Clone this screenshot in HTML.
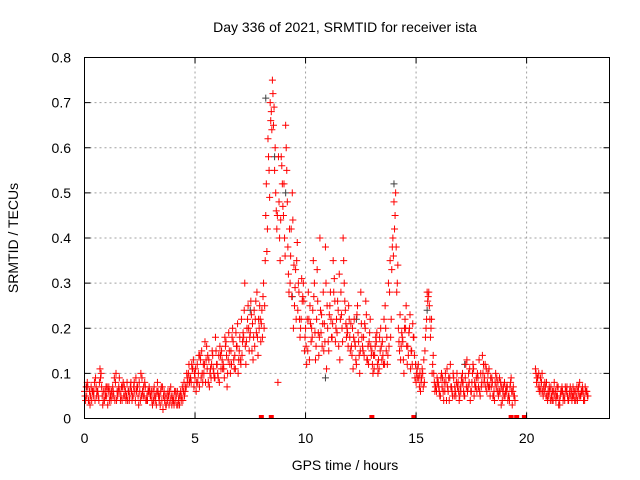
<!DOCTYPE html>
<html><head><meta charset="utf-8"><style>
body{margin:0;background:#fff}
svg{display:block;font-family:"Liberation Sans",sans-serif}
</style></head><body>
<svg id="chart" width="640" height="480" viewBox="0 0 640 480">
<text x="345" y="32" font-size="14" text-anchor="middle">Day 336 of 2021, SRMTID for receiver ista</text>
<text x="345" y="470" font-size="14" text-anchor="middle">GPS time / hours</text>
<text x="18" y="238" font-size="14" text-anchor="middle" transform="rotate(-90 18 238)">SRMTID / TECUs</text>
<g id="grid"></g>
<g id="marks"></g>
<rect x="84.5" y="57.5" width="525" height="361" fill="none" stroke="#000" stroke-width="1"/>
<g id="axes"></g>
</svg>
<script>
const xTicks=[0,5,10,15,20];
const yTicks=[0,0.1,0.2,0.3,0.4,0.5,0.6,0.7,0.8];
const yTickLabels=["0","0.1","0.2","0.3","0.4","0.5","0.6","0.7","0.8"];
const seriesA=[
.06,.05,.04,.07,.05,.09,.06,.11,.05,.04,
.05,.07,.04,.06,.08,.05,.06,.04,.07,.05,
.06,.08,.05,.04,.07,.06,.09,.05,.04,.06,
.05,.06,.04,.08,.05,.04,.06,.03,.05,.07,
.05,.04,.06,.03,.05,.08,.07,.10,.09,.11,
.09,.12,.07,.15,.10,.13,.08,.11,.14,.09,
.12,.08,.15,.11,.17,.13,.10,.20,.14,.16,
.15,.22,.18,.12,.25,.19,.21,.16,.28,.20,
.21,.30,.45,.62,.70,.75,.55,.42,.48,.58,
.45,.65,.38,.30,.50,.25,.35,.28,.22,.30,
.20,.15,.25,.18,.30,.22,.14,.19,.28,.38,
.20,.25,.18,.31,.22,.16,.28,.40,.24,.19,
.18,.14,.22,.12,.17,.28,.15,.20,.13,.19,
.15,.11,.17,.13,.20,.14,.25,.12,.28,.33,
.48,.38,.20,.13,.17,.22,.12,.20,.15,.18,
.08,.12,.06,.10,.15,.28,.25,.22,.10,.07,
.08,.05,.09,.06,.11,.04,.07,.09,.05,.08,
.07,.10,.05,.13,.08,.06,.11,.07,.09,.05,
.14,.09,.06,.11,.07,.05,.10,.08,.06,.04,
.08,.06,.05,.09,.07,null,null,null,null,null,
null,null,null,null,.11,.09,.07,.10,.06,.08,
.05,.07,.04,.06,.05,.03,.07,.05,.06,.04,
.05,.07,.06,.04,.08,.06,.05,.06,null,null];
const seriesB=[
.04,.07,.03,.06,.08,.05,.04,.10,.06,.05,
.03,.06,.05,.09,.04,.07,.05,.08,.06,.04,
.05,.04,.08,.06,.03,.10,.05,.07,.04,.06,
.04,.07,.03,.05,.06,.02,.05,.04,.06,.03,
.03,.05,.04,.06,.04,.06,.09,.08,.12,.07,
.06,.10,.13,.08,.17,.11,.07,.12,.10,.15,
.09,.14,.11,.18,.07,.15,.12,.13,.19,.10,
.13,.17,.30,.20,.15,.23,.18,.26,.14,.22,
.18,.25,.37,.55,.68,.65,.50,.08,.35,.52,
.40,.55,.28,.42,.20,.33,.24,.18,.26,.15,
.12,.22,.17,.35,.13,.26,.40,.16,.21,.11,
.15,.22,.35,.17,.26,.13,.20,.30,.18,.25,
.21,.11,.16,.25,.10,.18,.14,.23,.12,.16,
.10,.16,.12,.18,.13,.22,.15,.30,.18,.40,
.45,.30,.15,.19,.10,.25,.14,.11,.21,.09,
.11,.07,.09,.13,.20,.27,.18,.12,.06,.09,
.06,.10,.04,.08,.06,.12,.05,.07,.10,.04,
.09,.06,.12,.07,.04,.10,.08,.06,.13,.07,
.12,.07,.10,.05,.08,.04,.09,.06,.03,.07,
.06,.04,.07,.03,.05,null,null,null,null,null,
null,null,null,null,.08,.10,.06,.05,.07,.04,
.06,.04,.08,.05,.03,.06,.04,.07,.05,.06,
.04,.06,.05,.07,.05,.06,.07,.05,null,null];
const seriesC=[
.05,.08,.06,.04,.06,.07,.05,.09,.03,.06,
.07,.04,.06,.05,.10,.06,.04,.07,.05,.08,
.04,.06,.07,.09,.05,.04,.06,.08,.05,.07,
.06,.04,.05,.06,.03,.07,.04,.05,.03,.05,
.04,.06,.03,.05,.07,.05,.10,.12,.08,.13,
.11,.08,.14,.10,.12,.16,.13,.09,.11,.18,
.10,.16,.13,.09,.14,.19,.15,.17,.11,.21,
.18,.14,.24,.17,.20,.26,.13,.22,.18,.25,
.24,.20,.52,.58,.66,.72,.60,.45,.40,.56,
.52,.60,.32,.36,.44,.29,.39,.22,.31,.26,
.16,.28,.21,.24,.19,.33,.18,.23,.15,.30,
.17,.28,.21,.26,.19,.32,.23,.35,.21,.16,
.15,.20,.17,.23,.14,.21,.18,.26,.16,.22,
.12,.14,.19,.11,.16,.12,.20,.14,.35,.38,
.42,.28,.17,.16,.13,.20,.16,.23,.12,.14,
.10,.09,.08,.07,.18,.26,.22,.10,.08,.06,
.07,.09,.06,.10,.07,.09,.06,.05,.08,.06,
.06,.08,.09,.06,.11,.08,.05,.09,.07,.10,
.10,.12,.08,.07,.09,.06,.07,.05,.08,.06,
.05,.07,.04,.06,.05,null,null,null,null,null,
null,null,null,null,.10,.07,.09,.06,.08,.05,
.07,.05,.06,.04,.07,.05,.06,.04,.07,.05,
.06,.05,.04,.06,.05,.07,.04,.06,null,null];
const seriesD=[
.07,.04,.05,.06,.04,.06,.08,.07,.04,.07,
.06,.05,.07,.04,.06,.09,.07,.05,.04,.06,
.07,.05,.06,.07,.08,.05,.07,.04,.06,.05,
.03,.05,.06,.04,.07,.05,.03,.06,.04,.04,
.06,.03,.05,.04,.06,.07,.08,.09,.11,.10,
.08,.14,.09,.12,.08,.14,.10,.15,.09,.12,
.14,.11,.12,.16,.10,.12,.18,.11,.16,.13,
.12,.19,.16,.22,.18,.15,.24,.19,.22,.17,
.27,.35,.42,.49,.64,.69,.46,.58,.44,.47,
.36,.48,.42,.27,.34,.22,.30,.20,.27,.18,
.22,.13,.20,.27,.16,.19,.24,.21,.17,.25,
.23,.18,.28,.20,.24,.22,.17,.26,.20,.22,
.16,.18,.13,.19,.15,.16,.21,.13,.17,.14,
.14,.18,.10,.15,.17,.12,.18,.16,.22,.36,
.50,.34,.23,.18,.20,.16,.19,.15,.18,.12,
.09,.10,.11,.08,.22,.28,.20,.14,.07,.08,
.05,.07,.08,.04,.09,.07,.10,.06,.07,.05,
.08,.05,.07,.10,.06,.12,.07,.10,.06,.08,
.08,.11,.07,.09,.05,.08,.06,.09,.07,.05,
.07,.05,.08,.06,.04,null,null,null,null,null,
null,null,null,null,.09,.06,.08,.07,.05,.06,
.04,.06,.05,.07,.04,.06,.05,.06,.04,.07,
.05,.04,.07,.05,.06,.04,.06,.05,null,null];
const grayTimes=[0.1,2.0,7.5,8.2,8.6,9.1,9.4,10.9,12.3,14.0,15.5,17.2];
const grayValues=[0.07,0.06,0.24,0.71,0.58,0.50,0.27,0.09,0.22,0.52,0.24,0.12];
const zeroTimes=[8.0,8.45,13.0,14.9,19.3,19.55,19.9];

const X0=84.5,X1=609.5,Y0=418.5,Y1=57.5,XMAX=23.75,YMAX=0.8;
const sx=v=>X0+(X1-X0)*v/XMAX;
const sy=v=>Y0-(Y0-Y1)*v/YMAX;
const NS="http://www.w3.org/2000/svg";
function mk(tag,attrs,parent){const e=document.createElementNS(NS,tag);for(const k in attrs)e.setAttribute(k,attrs[k]);parent.appendChild(e);return e;}
const grid=document.getElementById('grid'),axes=document.getElementById('axes'),marks=document.getElementById('marks');
xTicks.forEach(t=>{
  const x=sx(t);
  if(t>0){const g=mk('line',{x1:x,x2:x,y1:Y0,y2:Y1,stroke:'#a0a0a0','stroke-dasharray':'2,3'},grid);
  
  }
  mk('line',{x1:x,x2:x,y1:Y0,y2:Y0-6,stroke:'#000'},axes);
  mk('line',{x1:x,x2:x,y1:Y1,y2:Y1+6,stroke:'#000'},axes);
  const l=mk('text',{x:x,y:443,'font-size':14,'text-anchor':'middle'},axes);l.textContent=t;
  
  
});
yTicks.forEach((t,i)=>{
  const y=sy(t);
  if(t>0&&t<YMAX){const g=mk('line',{x1:X0,x2:X1,y1:y,y2:y,stroke:'#a0a0a0','stroke-dasharray':'2,3'},grid);
  
  }
  mk('line',{x1:X0,x2:X0+6,y1:y,y2:y,stroke:'#000'},axes);
  mk('line',{x1:X1,x2:X1-6,y1:y,y2:y,stroke:'#000'},axes);
  const l=mk('text',{x:71,y:y+5,'font-size':14,'text-anchor':'end'},axes);l.textContent=yTickLabels[i];
  
  
});
function plus(t,v,color,name){
  const x=sx(t),y=sy(v);
  const p=mk('path',{d:`M${x-3.5},${y}h7M${x},${y-3.5}v7`,stroke:color,'stroke-width':1,fill:'none'},marks);
  
  
}
grayTimes.forEach((t,i)=>plus(t,grayValues[i],'#404040','gray-point'));
seriesA.forEach((v,i)=>{if(v!==null)plus(i*0.1,v,'#ff0000','red-point');});
seriesB.forEach((v,i)=>{if(v!==null)plus(i*0.1+0.05,v,'#ff0000','red-point');});
seriesC.forEach((v,i)=>{if(v!==null)plus(i*0.1+0.025,v,'#ff0000','red-point');});
seriesD.forEach((v,i)=>{if(v!==null)plus(i*0.1+0.075,v,'#ff0000','red-point');});
zeroTimes.forEach(t=>{
  const r=mk('rect',{x:sx(t)-2.5,y:Y0-3.5,width:5,height:4,fill:'#ff0000'},marks);
  
  
});
</script>
</body></html>
